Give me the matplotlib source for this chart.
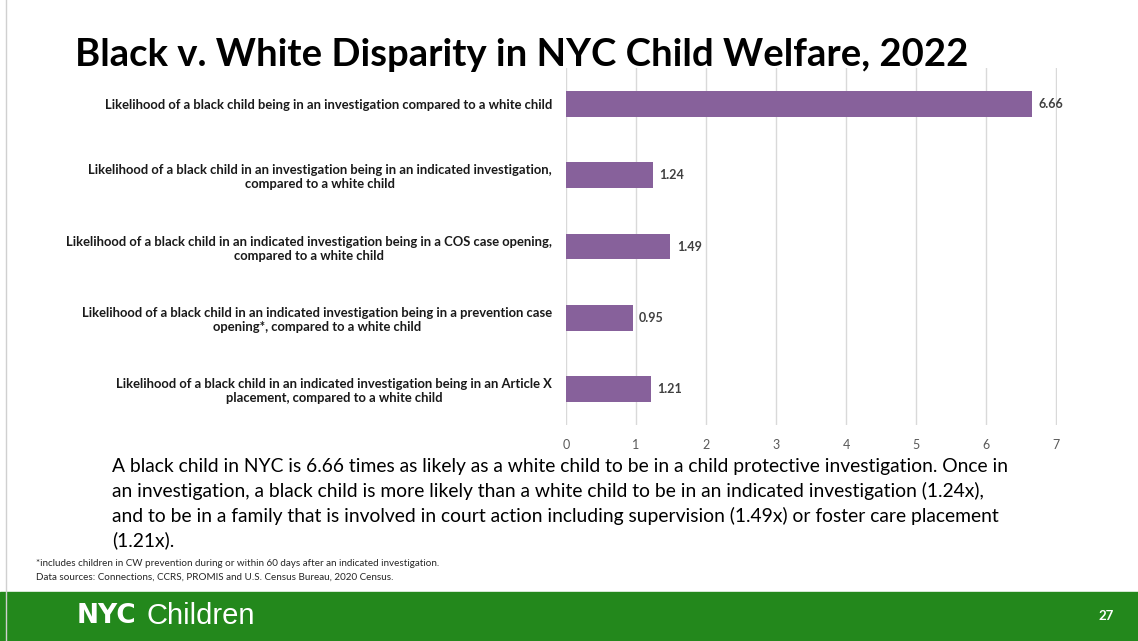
import matplotlib.pyplot as plt
from matplotlib.patches import Rectangle
from matplotlib.lines import Line2D

# data
categories = [
    'Likelihood of a black child being in an investigation compared to a white child',
    'Likelihood of a black child in an investigation being in an indicated investigation,\ncompared to a white child',
    'Likelihood of a black child in an indicated investigation being in a COS case opening,\ncompared to a white child',
    'Likelihood of a black child in an indicated investigation being in a prevention case\nopening*, compared to a white child',
    'Likelihood of a black child in an indicated investigation being in an Article X\nplacement, compared to a white child',
]
ratios = [6.66, 1.24, 1.49, 0.95, 1.21]
x_ticks = [0, 1, 2, 3, 4, 5, 6, 7]

title = 'Black v. White Disparity in NYC Child Welfare, 2022'
summary = ('A black child in NYC is 6.66 times as likely as a white child to be in a child protective investigation. Once in\n'
           'an investigation, a black child is more likely than a white child to be in an indicated investigation (1.24x),\n'
           'and to be in a family that is involved in court action including supervision (1.49x) or foster care placement\n'
           '(1.21x).')
footnotes = ('*includes children in CW prevention during or within 60 days after an indicated investigation.\n'
             'Data sources: Connections, CCRS, PROMIS and U.S. Census Bureau, 2020 Census.')

purple = '#87619B'
green = '#23881C'
font = ['Lato', 'DejaVu Sans']

W, H = 1138, 641
fig = plt.figure(figsize=(W / 100, H / 100), dpi=100)
fig.patch.set_facecolor('white')

ax = fig.add_axes([566 / W, 1 - 425 / H, 491 / W, (425 - 68) / H])
pos = list(range(len(categories)))
bars = ax.barh(pos, ratios, height=0.36, color=purple, zorder=3)
ax.set_ylim(4.5, -0.5)
ax.set_xlim(0, 7.01)
ax.set_xticks(x_ticks)
ax.set_yticks(pos)
ax.set_yticklabels(categories, fontsize=9.4, fontweight='bold', family=font, color='#1a1a1a')
for t in ax.get_yticklabels():
    t.set_multialignment('center')
ax.tick_params(axis='y', length=0, pad=10)
ax.tick_params(axis='x', length=0, pad=10, labelsize=9, labelcolor='#595959')
for t in ax.get_xticklabels():
    t.set_family(font)
ax.grid(axis='x', color='#d9d9d9', linewidth=1, zorder=0)
for s in ax.spines.values():
    s.set_visible(False)
for b, v in zip(bars, ratios):
    ax.text(v + 0.09, b.get_y() + b.get_height() / 2, f'{v:.2f}', va='center', ha='left',
            fontsize=9, fontweight='bold', family=font, color='#404040')

fig.text(75 / W, 1 - 55 / H, title, fontsize=27.5, fontweight='bold', family=font,
         va='center', ha='left', color='black')
fig.text(112 / W, 1 - 458 / H, summary, fontsize=13.9, family=font, va='top', ha='left',
         color='black', linespacing=1.45)
fig.text(36 / W, 1 - 559 / H, footnotes, fontsize=7.1, family=font, va='top', ha='left',
         color='#262626', linespacing=1.6)

# slide chrome
fig.add_artist(Line2D([6 / W, 6 / W], [0, 1], color='#d0d0d0', linewidth=1))
fig.add_artist(Rectangle((0, 0), 1, 49 / H, transform=fig.transFigure, color=green, zorder=0))
fig.text(77 / W, 1 - 616 / H, 'NYC', fontsize=19, fontweight='heavy', family=['DejaVu Sans'],
         color='white', va='center', ha='left')
fig.text(147 / W, 1 - 616 / H, 'Children', fontsize=21, family=['Liberation Sans'],
         color='white', va='center', ha='left')
fig.text(1106 / W, 1 - 616 / H, '27', fontsize=9.5, fontweight='bold', family=font,
         color='white', va='center', ha='center')

fig.savefig('out.png', dpi=100)
